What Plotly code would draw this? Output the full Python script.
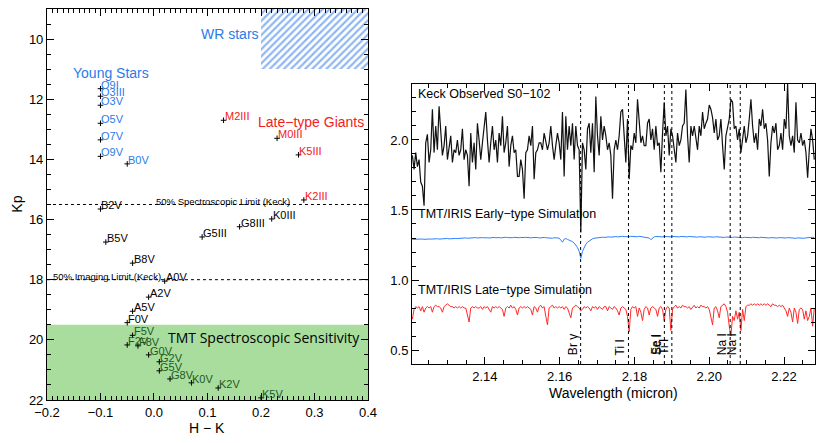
import numpy as np
import plotly.graph_objects as go

# ---- left panel: colour-magnitude diagram (H-K vs Kp) ----
young_names = ["O9I", "O3III", "O3V", "O5V", "O7V", "O9V", "B0V"]
young_hk = [-0.10, -0.10, -0.10, -0.10, -0.10, -0.10, -0.05]
young_kp = [11.65, 11.9, 12.2, 12.8, 13.35, 13.9, 14.15]

giant_names = ["M2III", "M0III", "K5III", "K2III"]
giant_hk = [0.13, 0.23, 0.27, 0.28]
giant_kp = [12.7, 13.3, 13.85, 15.35]

mid_names = ["B2V", "B5V", "B8V", "A0V", "A2V", "A5V", "F0V", "G5III", "G8III", "K0III"]
mid_hk = [-0.10, -0.09, -0.04, 0.02, -0.01, -0.04, -0.05, 0.09, 0.16, 0.22]
mid_kp = [15.65, 16.75, 17.45, 18.05, 18.58, 19.05, 19.43, 16.58, 16.24, 15.98]

tmt_names = ["F5V", "F2V", "F8V", "G0V", "G2V", "G5V", "G8V", "K0V", "K2V", "K5V"]
tmt_hk = [-0.04, -0.05, -0.03, -0.01, 0.01, 0.01, 0.03, 0.07, 0.12, 0.20]
tmt_kp = [19.85, 20.17, 20.2, 20.5, 20.73, 21.03, 21.3, 21.43, 21.6, 21.93]

spec_limit_keck = 15.5
imaging_limit_keck = 18.0
tmt_limit = 19.5
wr_hk = [0.2, 0.4]
wr_kp = [9.0, 11.0]

# ---- right panel: K-band spectra ----
wave = np.linspace(2.1206, 2.2281, 242)

keck_flux = [
    1.89, 1.79, 1.91, 1.81, 1.86, 1.70, 1.67, 1.53, 1.98, 2.04,
    1.84, 1.93, 2.22, 1.91, 2.10, 1.93, 2.24, 2.05, 1.89, 1.96,
    2.10, 1.86, 1.96, 2.03, 1.84, 1.93, 1.91, 2.00, 1.89, 1.93,
    2.08, 1.86, 1.93, 1.89, 1.67, 2.05, 1.84, 1.98, 1.79, 2.12,
    2.00, 1.86, 1.98, 2.08, 2.20, 2.00, 1.84, 1.98, 2.10, 1.93,
    2.00, 1.84, 2.05, 1.96, 2.17, 1.91, 1.98, 2.10, 1.81, 1.96,
    2.03, 1.91, 1.93, 1.74, 1.74, 1.86, 1.79, 1.58, 1.91, 1.93,
    2.03, 1.96, 2.10, 1.72, 1.91, 1.93, 1.98, 1.98, 1.93, 2.05,
    1.98, 1.93, 1.98, 2.10, 1.96, 1.86, 1.96, 2.05, 1.98, 1.86,
    2.20, 1.74, 2.17, 1.93, 2.10, 1.96, 2.12, 1.86, 2.10, 1.96,
    1.93, 1.34, 1.98, 1.93, 1.79, 2.08, 2.12, 1.91, 2.12, 1.77,
    2.31, 2.03, 1.89, 2.17, 2.00, 2.10, 2.03, 1.93, 1.98, 1.89,
    1.58, 1.93, 2.00, 1.93, 2.03, 2.20, 2.22, 2.00, 1.84, 2.15,
    1.72, 1.96, 1.93, 2.05, 1.98, 2.29, 2.10, 1.98, 2.03, 1.96,
    1.96, 2.12, 2.15, 2.00, 2.08, 1.93, 2.10, 1.96, 1.98, 1.77,
    2.05, 2.27, 2.03, 2.10, 1.89, 2.08, 2.03, 1.93, 1.84, 2.05,
    1.96, 2.00, 2.10, 2.12, 2.36, 2.03, 1.84, 2.10, 2.03, 2.10,
    2.00, 1.93, 2.10, 2.03, 2.20, 2.08, 2.12, 2.15, 2.25, 2.22,
    2.16, 2.05, 2.15, 2.00, 2.03, 2.15, 1.96, 1.79, 2.03, 2.10,
    2.15, 2.29, 2.27, 2.08, 2.10, 2.00, 2.08, 1.91, 2.00, 2.10,
    1.98, 2.03, 2.15, 2.29, 2.10, 1.98, 2.05, 1.93, 2.15, 2.10,
    2.22, 2.08, 2.12, 2.00, 1.74, 1.98, 2.10, 2.05, 2.12, 1.93,
    1.96, 2.05, 1.93, 2.15, 2.08, 2.40, 2.03, 1.96, 2.03, 1.91,
    2.27, 2.00, 1.98, 2.05, 1.96, 2.00, 1.91, 1.73, 1.93, 2.08,
    2.00, 1.86,
]

early_flux = [
    1.290, 1.291, 1.289, 1.292, 1.290, 1.291, 1.293, 1.290, 1.292, 1.291,
    1.293, 1.292, 1.294, 1.291, 1.293, 1.295, 1.292, 1.294, 1.296, 1.293,
    1.295, 1.297, 1.294, 1.296, 1.298, 1.295, 1.297, 1.296, 1.298, 1.300,
    1.297, 1.299, 1.301, 1.298, 1.300, 1.302, 1.299, 1.301, 1.303, 1.300,
    1.302, 1.300, 1.303, 1.301, 1.304, 1.302, 1.300, 1.303, 1.301, 1.304,
    1.302, 1.305, 1.303, 1.301, 1.304, 1.302, 1.305, 1.303, 1.301, 1.304,
    1.302, 1.305, 1.303, 1.300, 1.302, 1.304, 1.301, 1.303, 1.305, 1.302,
    1.304, 1.301, 1.303, 1.305, 1.302, 1.304, 1.300, 1.303, 1.301, 1.304,
    1.302, 1.300, 1.303, 1.301, 1.298, 1.302, 1.300, 1.297, 1.299, 1.285,
    1.270, 1.292, 1.296, 1.290, 1.286, 1.280, 1.274, 1.264, 1.250, 1.232,
    1.205, 1.155, 1.205, 1.235, 1.255, 1.270, 1.280, 1.288, 1.294, 1.298,
    1.300, 1.303, 1.305, 1.302, 1.306, 1.304, 1.307, 1.305, 1.308, 1.306,
    1.309, 1.307, 1.310, 1.308, 1.311, 1.309, 1.312, 1.310, 1.308, 1.311,
    1.309, 1.312, 1.310, 1.313, 1.311, 1.309, 1.312, 1.310, 1.313, 1.311,
    1.309, 1.306, 1.300, 1.288, 1.302, 1.308, 1.311, 1.309, 1.312, 1.310,
    1.308, 1.311, 1.309, 1.312, 1.310, 1.308, 1.311, 1.309, 1.312, 1.310,
    1.308, 1.311, 1.309, 1.307, 1.310, 1.308, 1.311, 1.309, 1.307, 1.310,
    1.308, 1.306, 1.309, 1.307, 1.310, 1.308, 1.306, 1.309, 1.307, 1.305,
    1.308, 1.306, 1.309, 1.307, 1.305, 1.308, 1.306, 1.304, 1.307, 1.305,
    1.303, 1.306, 1.304, 1.307, 1.305, 1.303, 1.306, 1.304, 1.302, 1.305,
    1.303, 1.306, 1.304, 1.302, 1.305, 1.303, 1.301, 1.304, 1.302, 1.305,
    1.303, 1.301, 1.304, 1.302, 1.300, 1.303, 1.301, 1.304, 1.302, 1.300,
    1.303, 1.301, 1.299, 1.302, 1.300, 1.303, 1.301, 1.299, 1.302, 1.300,
    1.298, 1.301, 1.299, 1.302, 1.300, 1.298, 1.301, 1.303, 1.300, 1.302,
    1.305, 1.303,
]

late_flux = [
    0.72, 0.79, 0.81, 0.80, 0.81, 0.78, 0.81, 0.77, 0.80, 0.81,
    0.80, 0.81, 0.77, 0.81, 0.82, 0.81, 0.81, 0.80, 0.77, 0.81,
    0.82, 0.83, 0.82, 0.81, 0.81, 0.80, 0.81, 0.80, 0.81, 0.80,
    0.81, 0.80, 0.80, 0.75, 0.70, 0.80, 0.81, 0.80, 0.81, 0.80,
    0.80, 0.81, 0.79, 0.81, 0.80, 0.81, 0.79, 0.77, 0.81, 0.80,
    0.81, 0.80, 0.81, 0.80, 0.79, 0.74, 0.80, 0.81, 0.80, 0.82,
    0.80, 0.81, 0.79, 0.75, 0.80, 0.81, 0.80, 0.81, 0.80, 0.81,
    0.80, 0.79, 0.75, 0.81, 0.80, 0.77, 0.81, 0.82, 0.80, 0.81,
    0.74, 0.68, 0.80, 0.81, 0.82, 0.80, 0.81, 0.80, 0.81, 0.80,
    0.81, 0.79, 0.81, 0.80, 0.77, 0.73, 0.80, 0.81, 0.82, 0.81,
    0.80, 0.78, 0.79, 0.81, 0.80, 0.81, 0.80, 0.78, 0.81, 0.80,
    0.81, 0.79, 0.81, 0.80, 0.79, 0.81, 0.81, 0.78, 0.81, 0.80,
    0.79, 0.81, 0.80, 0.78, 0.75, 0.80, 0.81, 0.80, 0.79, 0.74,
    0.63, 0.79, 0.81, 0.80, 0.81, 0.74, 0.80, 0.77, 0.71, 0.79,
    0.81, 0.80, 0.75, 0.80, 0.81, 0.80, 0.79, 0.74, 0.80, 0.81,
    0.79, 0.71, 0.79, 0.81, 0.80, 0.64, 0.79, 0.81, 0.82, 0.80,
    0.81, 0.80, 0.82, 0.81, 0.81, 0.80, 0.81, 0.79, 0.81, 0.82,
    0.80, 0.81, 0.80, 0.82, 0.81, 0.81, 0.80, 0.81, 0.79, 0.74,
    0.68, 0.80, 0.81, 0.78, 0.73, 0.81, 0.82, 0.83, 0.81, 0.77,
    0.67, 0.60, 0.74, 0.71, 0.78, 0.72, 0.77, 0.64, 0.79, 0.71,
    0.81, 0.82, 0.82, 0.83, 0.82, 0.83, 0.82, 0.83, 0.82, 0.83,
    0.82, 0.83, 0.82, 0.83, 0.82, 0.81, 0.83, 0.82, 0.82, 0.81,
    0.82, 0.81, 0.82, 0.80, 0.78, 0.74, 0.80, 0.77, 0.70, 0.80,
    0.77, 0.69, 0.79, 0.80, 0.79, 0.72, 0.78, 0.71, 0.74, 0.80,
    0.67, 0.80,
]

line_names = ["Br γ", "Ti I", "Sc I", "Fe I", "Ti I", "Na I", "Na I"]
line_waves = [2.1656, 2.1784, 2.1880, 2.1879, 2.1900, 2.2056, 2.2083]
line_marks = [2.1656, 2.1784, 2.1880, 2.1900, 2.2056, 2.2083]

BLUE = "#2a7be8"
RED = "#f42020"
GREEN_TXT = "#1d5a1d"
FONT = "Liberation Sans, Arial, sans-serif"

fig = go.Figure()

# WR stars hatched box
fig.add_trace(go.Bar(
    x=[(wr_hk[0] + wr_hk[1]) / 2], width=[wr_hk[1] - wr_hk[0]],
    base=[wr_kp[0]], y=[wr_kp[1] - wr_kp[0]],
    marker=dict(color="white", line=dict(width=0),
                pattern=dict(shape="/", fgcolor="#1f6fe6", bgcolor="white", size=5, solidity=0.45)),
    xaxis="x", yaxis="y", hoverinfo="skip", showlegend=False,
))

groups = [
    (young_names, young_hk, young_kp, BLUE),
    (giant_names, giant_hk, giant_kp, RED),
    (mid_names, mid_hk, mid_kp, "black"),
    (tmt_names, tmt_hk, tmt_kp, GREEN_TXT),
]
annotations = []
for names, hk, kp, col in groups:
    fig.add_trace(go.Scatter(
        x=hk, y=kp, mode="markers", xaxis="x", yaxis="y",
        marker=dict(symbol="cross-thin", size=4, line=dict(color="black", width=1)),
        showlegend=False, hoverinfo="text", text=names,
    ))
    for n, a, b in zip(names, hk, kp):
        annotations.append(dict(
            x=a, y=b, xref="x", yref="y", text=n, showarrow=False,
            xanchor="left", yanchor="middle", xshift=-1, yshift=4,
            font=dict(size=11, color=col, family=FONT),
        ))

# spectra
fig.add_trace(go.Scatter(x=wave, y=keck_flux, mode="lines", xaxis="x2", yaxis="y2",
                         line=dict(color="#111111", width=1.2), showlegend=False))
fig.add_trace(go.Scatter(x=wave, y=early_flux, mode="lines", xaxis="x2", yaxis="y2",
                         line=dict(color="#2d80ff", width=1), showlegend=False))
fig.add_trace(go.Scatter(x=wave, y=late_flux, mode="lines", xaxis="x2", yaxis="y2",
                         line=dict(color="#ff2a2a", width=1), showlegend=False))

shapes = [
    dict(type="rect", xref="x", yref="y", x0=-0.2, x1=0.4, y0=tmt_limit, y1=22,
         fillcolor="#a8dd9e", line=dict(width=0), layer="below"),
    dict(type="line", xref="x", yref="y", x0=-0.2, x1=0.4, y0=spec_limit_keck, y1=spec_limit_keck,
         line=dict(color="black", width=1, dash="dot")),
    dict(type="line", xref="x", yref="y", x0=-0.2, x1=0.4, y0=imaging_limit_keck, y1=imaging_limit_keck,
         line=dict(color="black", width=1, dash="dot")),
]
for w in line_marks:
    shapes.append(dict(type="line", xref="x2", yref="y2 domain", x0=w, x1=w, y0=0, y1=1,
                       line=dict(color="black", width=1, dash="dot")))

for n, w in zip(line_names, line_waves):
    annotations.append(dict(x=w, y=0.45, xref="x2", yref="y2", text=n, showarrow=False,
                            textangle=-90, xanchor="right", yanchor="bottom", xshift=1,
                            font=dict(size=12, color="black", family=FONT)))

annotations += [
    dict(x=-0.08, y=11.13, xref="x", yref="y", text="Young Stars", showarrow=False,
         font=dict(size=14, color=BLUE, family=FONT)),
    dict(x=0.294, y=12.77, xref="x", yref="y", text="Late−type Giants", showarrow=False,
         font=dict(size=14, color=RED, family=FONT)),
    dict(x=0.2, y=9.82, xref="x", yref="y", text="WR stars", showarrow=False, xanchor="right",
         font=dict(size=14, color=BLUE, family=FONT)),
    dict(x=0.389, y=19.91, xref="x", yref="y", text="TMT Spectroscopic Sensitivity", showarrow=False,
         xanchor="right", font=dict(size=14, color="black", family="Open Sans, sans-serif")),
    dict(x=0.0, y=15.4, xref="x", yref="y", text="50% Spectroscopic Limit (Keck)", showarrow=False,
         xanchor="left", font=dict(size=9.5, color="black", family=FONT)),
    dict(x=-0.193, y=17.88, xref="x", yref="y", text="50% Imaging Limit (Keck)", showarrow=False,
         xanchor="left", font=dict(size=9.5, color="black", family=FONT)),
    dict(x=2.1215, y=2.326, xref="x2", yref="y2", text="Keck Observed S0−102", showarrow=False,
         xanchor="left", font=dict(size=12.5, color="black", family=FONT)),
    dict(x=2.1215, y=1.469, xref="x2", yref="y2", text="TMT/IRIS Early−type Simulation", showarrow=False,
         xanchor="left", font=dict(size=12.5, color="black", family=FONT)),
    dict(x=2.1215, y=0.926, xref="x2", yref="y2", text="TMT/IRIS Late−type Simulation", showarrow=False,
         xanchor="left", font=dict(size=12.5, color="black", family=FONT)),
    # axis titles placed in paper coordinates
    dict(x=0.2421, y=0.0345, xref="paper", yref="paper", text="H − K", showarrow=False,
         xanchor="center", yanchor="middle", font=dict(size=14, color="black", family=FONT)),
    dict(x=0.0115, y=0.549, xref="paper", yref="paper", text="Kp", showarrow=False, textangle=-90,
         xanchor="center", yanchor="middle", font=dict(size=14, color="black", family=FONT)),
    dict(x=0.7372, y=0.116, xref="paper", yref="paper", text="Wavelength (micron)", showarrow=False,
         xanchor="center", yanchor="middle", font=dict(size=14, color="black", family=FONT)),
]

axis_common = dict(showline=True, linecolor="black", linewidth=1, mirror="ticks",
                   ticks="inside", ticklen=7, tickcolor="black", showgrid=False, zeroline=False,
                   automargin=False, tickfont=dict(size=13, color="black", family=FONT))

# the page body adds an 8px offset, so the figure is 8px smaller than the window
fig.update_layout(
    width=822, height=435,
    margin=dict(l=0, r=0, t=0, b=0, autoexpand=False),
    paper_bgcolor="white", plot_bgcolor="white",
    font=dict(family=FONT, color="black"),
    showlegend=False,
    bargap=0,
    xaxis=dict(domain=[0.0474, 0.4380], range=[-0.2, 0.4], dtick=0.1, tick0=0, tickformat=".1f",
               minor=dict(dtick=0.01, ticklen=4, ticks="inside", tickcolor="black"),
               anchor="y", **axis_common),
    yaxis=dict(domain=[0.0989, 0.9977], range=[22, 9], dtick=2, tick0=10,
               minor=dict(dtick=0.5, ticklen=4, ticks="inside", tickcolor="black"),
               anchor="x", **axis_common),
    xaxis2=dict(domain=[0.4915, 0.9818], range=[2.1205, 2.2283], dtick=0.02, tick0=2.14,
                tickformat=".2f", minor=dict(dtick=0.005, ticklen=4, ticks="inside", tickcolor="black"),
                anchor="y2", **axis_common),
    yaxis2=dict(domain=[0.1816, 0.8253], range=[0.4, 2.4], dtick=0.5, tick0=0.5, tickformat=".1f",
                minor=dict(dtick=0.1, ticklen=4, ticks="inside", tickcolor="black"),
                anchor="x2", **axis_common),
    shapes=shapes,
    annotations=annotations,
)

fig.write_html("out.html")
